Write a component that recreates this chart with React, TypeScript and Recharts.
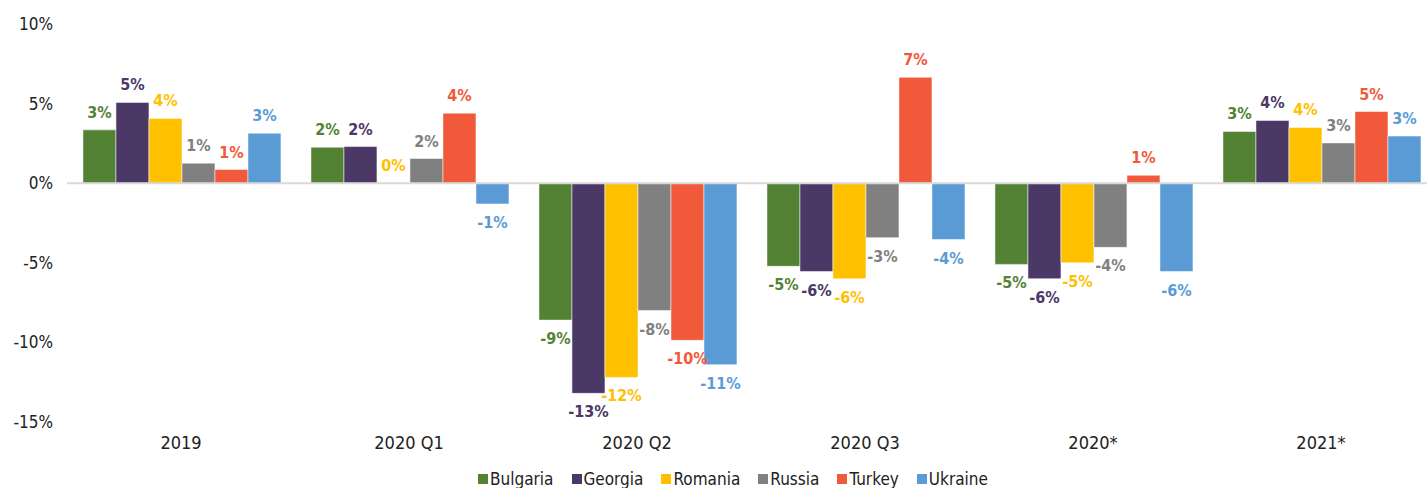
import { BarChart, Bar, XAxis, YAxis, ReferenceLine, Legend, LabelList } from "recharts";

const categories = ["2019", "2020 Q1", "2020 Q2", "2020 Q3", "2020*", "2021*"];
const bulgaria = [3.35, 2.26, -8.6, -5.22, -5.1, 3.25];
const georgia = [5.07, 2.3, -13.2, -5.55, -6.0, 3.94];
const romania = [4.07, 0.02, -12.2, -6.0, -5.0, 3.5];
const russia = [1.26, 1.55, -8.0, -3.42, -4.03, 2.53];
const turkey = [0.86, 4.4, -9.87, 6.65, 0.5, 4.5];
const ukraine = [3.14, -1.3, -11.4, -3.54, -5.55, 2.96];
const yTicks = [-15, -10, -5, 0, 5, 10];

const series = [
  { key: "Bulgaria", values: bulgaria, color: "#548235" },
  { key: "Georgia", values: georgia, color: "#4b3867" },
  { key: "Romania", values: romania, color: "#ffc000" },
  { key: "Russia", values: russia, color: "#808080" },
  { key: "Turkey", values: turkey, color: "#f05a3a" },
  { key: "Ukraine", values: ukraine, color: "#5b9bd5" },
];

const data = categories.map((c, i) => {
  const row: Record<string, string | number> = { name: c };
  series.forEach((s) => (row[s.key] = s.values[i]));
  return row;
});

const FONT = "'DejaVu Sans Condensed', 'DejaVu Sans', sans-serif";

function makeLabel(color: string) {
  return (props: any) => {
    const { x, y, width, height, value } = props;
    const top = Math.min(y, y + height);
    const bottom = Math.max(y, y + height);
    const neg = value < 0;
    return (
      <text
        x={x + width / 2}
        y={neg ? bottom + 24 : top - 12}
        textAnchor="middle"
        fill={color}
        fontFamily={FONT}
        fontWeight="bold"
        fontSize={16}
      >
        {`${Math.round(value)}%`}
      </text>
    );
  };
}

function LegendBox() {
  return (
    <div
      style={{
        height: 30,
        width: 1440,
        display: "flex",
        justifyContent: "center",
        alignItems: "center",
        fontFamily: FONT,
        fontSize: 17,
        color: "#222",
        paddingLeft: 44,
        boxSizing: "border-box",
      }}
    >
      {series.map((s) => (
        <span key={s.key} style={{ display: "flex", alignItems: "center", marginRight: 18, lineHeight: "17px" }}>
          <span style={{ width: 10, height: 10, background: s.color, marginRight: 2, display: "inline-block" }} />
          {s.key}
        </span>
      ))}
    </div>
  );
}

export default function App() {
  return (
    <div style={{ width: 1427, height: 488, overflow: "hidden", background: "#fff" }}>
      <style>{`html, body { margin: 0; padding: 0; overflow: hidden; }`}</style>
      <BarChart
        width={1440}
        height={488}
        data={data}
        margin={{ top: 24, right: 5, left: 7, bottom: 0 }}
        barCategoryGap="7%"
        barGap={0}
      >
        <XAxis
          dataKey="name"
          axisLine={false}
          tickLine={false}
          tickSize={0}
          tickMargin={14}
          height={36}
          tick={{ fill: "#222", fontSize: 18, fontFamily: FONT }}
        />
        <YAxis
          domain={[-15, 10]}
          ticks={yTicks}
          width={60}
          axisLine={false}
          tickLine={false}
          tickSize={0}
          tickMargin={14}
          tickFormatter={(v: number) => `${v}%`}
          tick={{ fill: "#222", fontSize: 17, fontFamily: FONT }}
        />
        <ReferenceLine y={0} stroke="#d9d9d9" strokeWidth={2} />
        {series.map((s) => (
          <Bar
            key={s.key}
            dataKey={s.key}
            fill={s.color}
            stroke="rgba(255,255,255,0.5)"
            strokeWidth={1}
            isAnimationActive={false}
          >
            <LabelList dataKey={s.key} content={makeLabel(s.color)} />
          </Bar>
        ))}
        <Legend
          verticalAlign="bottom"
          height={30}
          wrapperStyle={{ left: 0, width: 1440, top: 464 }}
          content={() => <LegendBox />}
        />
      </BarChart>
    </div>
  );
}
